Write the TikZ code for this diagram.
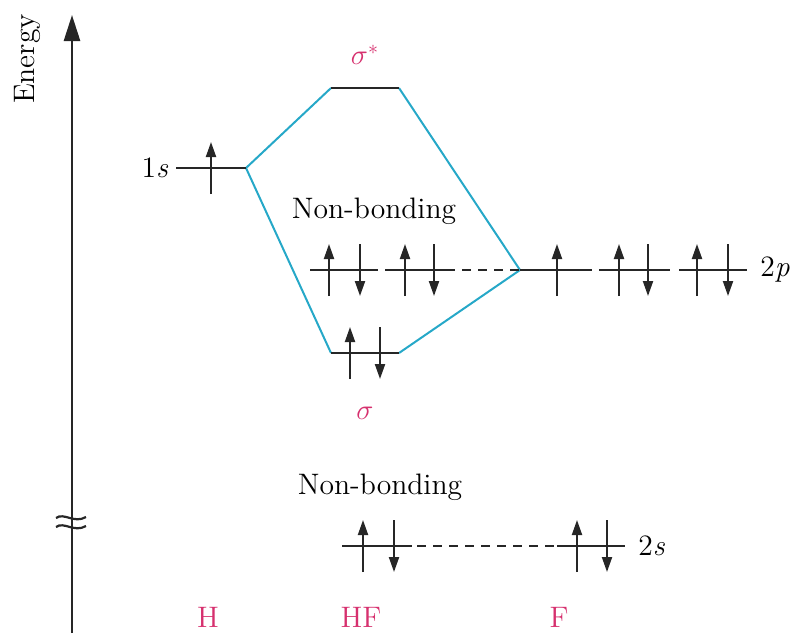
\documentclass[tikz,border=0pt]{standalone}
\usetikzlibrary{arrows.meta}
\definecolor{mopink}{RGB}{214,48,110}
\definecolor{mocyan}{RGB}{38,168,200}
\begin{document}
\begin{tikzpicture}[x=0.5pt,y=-0.5pt,
  every node/.style={font=\fontsize{14.8}{18}\selectfont, inner sep=0pt},
  level/.style={line width=1.15pt, black!85},
  dashlevel/.style={level, dash pattern=on 4.5pt off 3.5pt},
  corr/.style={mocyan, line width=1pt},
  elec/.style={line width=1pt, black!85, -{Triangle[length=7.5pt,width=5pt]}},
  lab/.style={text=mopink},
  upe/.pic={\draw[elec] (0,26)--(0,-26);},
  downe/.pic={\draw[elec] (0,-26)--(0,26);}
]
\useasboundingbox (0,0) rectangle (790,633);

% energy axis
\coordinate (axB) at (72,633);
\coordinate (axT) at (72,15);
\draw[line width=1.3pt, black!85, -{Triangle[length=13pt,width=8pt]}] (axB) -- (axT);
\node[rotate=90] (energy) at (27,59) {Energy};
% axis break
\draw[line width=1.1pt, black!85] (56,518) .. controls (64,512) and (74,524) .. (86,517);
\draw[line width=1.1pt, black!85] (56,527) .. controls (64,521) and (74,533) .. (86,526);

% coordinates of levels
\coordinate (h1sL) at (176,168); \coordinate (h1sR) at (246,168);
\coordinate (ssL) at (331,88);  \coordinate (ssR) at (399,88);
\coordinate (sL) at (331,353);  \coordinate (sR) at (399,353);
\coordinate (nb1L) at (310,270); \coordinate (nb1R) at (378,270);
\coordinate (nb2L) at (385,270); \coordinate (nb2R) at (455,270);
\coordinate (dpL) at (462,270);
\coordinate (f1L) at (520,270); \coordinate (f1R) at (592,270);
\coordinate (f2L) at (599,270); \coordinate (f2R) at (670,270);
\coordinate (f3L) at (679,270); \coordinate (f3R) at (747,270);
\coordinate (hs2L) at (342,546); \coordinate (hs2R) at (412,546);
\coordinate (dsL) at (417,546);
\coordinate (fs2L) at (557,546); \coordinate (fs2R) at (625,546);

% correlation lines
\draw[corr] (h1sR) -- (ssL);
\draw[corr] (h1sR) -- (sL);
\draw[corr] (ssR) -- (f1L);
\draw[corr] (sR) -- (f1L);

% levels
\draw[level] (h1sL) -- (h1sR);
\draw[level] (ssL) -- (ssR);
\draw[level] (sL) -- (sR);
\draw[level] (nb1L) -- (nb1R);
\draw[level] (nb2L) -- (nb2R);
\draw[dashlevel] (dpL) -- (f1L);
\draw[level] (f1L) -- (f1R);
\draw[level] (f2L) -- (f2R);
\draw[level] (f3L) -- (f3R);
\draw[level] (hs2L) -- (hs2R);
\draw[dashlevel] (dsL) -- (fs2L);
\draw[level] (fs2L) -- (fs2R);

% electrons
\pic at (211,168) {upe};
\pic at (350,353) {upe}; \pic at (380,353) {downe};
\pic at (329,270) {upe}; \pic at (360,270) {downe};
\pic at (405,270) {upe}; \pic at (434,270) {downe};
\pic at (557,270) {upe};
\pic at (619,270) {upe}; \pic at (648,270) {downe};
\pic at (697,270) {upe}; \pic at (728,270) {downe};
\pic at (363,546) {upe}; \pic at (394,546) {downe};
\pic at (577,546) {upe}; \pic at (607,546) {downe};

% labels
\node[lab] (sstar) at (365,55) {$\sigma^{*}$};
\node[lab] (sig) at (365,413) {$\sigma$};
\node (nbA) at (374,211) {Non-bonding};
\node (nbB) at (380,487) {Non-bonding};
\node (l1s) at (155,168) {1\textit{s}};
\node[anchor=west] (l2p) at (760,270) {2\textit{p}};
\node[anchor=west] (l2s) at (638,546) {2\textit{s}};
\node[lab] (lH) at (208,617) {H};
\node[lab] (lHF) at (361,617) {HF};
\node[lab] (lF) at (559,617) {F};
\end{tikzpicture}
\end{document}
